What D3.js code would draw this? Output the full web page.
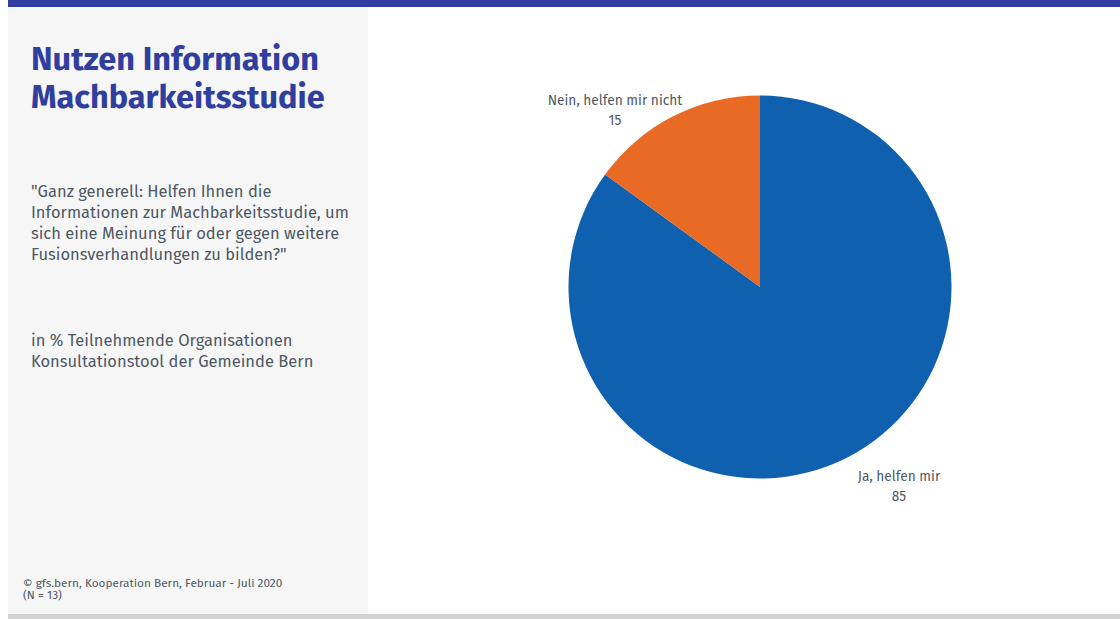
<!DOCTYPE html>
<html><head><meta charset="utf-8">
<script src="https://cdn.jsdelivr.net/npm/d3@7"></script>
<style>
html,body{margin:0;padding:0;background:#fff;}
svg{display:block;}
</style></head>
<body>
<svg id="chart" width="1120" height="619"></svg>
<script>
const categories = ["Ja, helfen mir", "Nein, helfen mir nicht"];
const values = [85, 15];
const colors = ["#0f60ae", "#e96a24"];
const titleLines = ["Nutzen Information", "Machbarkeitsstudie"];
const questionLines = ["\"Ganz generell: Helfen Ihnen die", "Informationen zur Machbarkeitsstudie, um", "sich eine Meinung für oder gegen weitere", "Fusionsverhandlungen zu bilden?\""];
const baseLines = ["in % Teilnehmende Organisationen", "Konsultationstool der Gemeinde Bern"];
const footerLines = ["©  gfs.bern, Kooperation Bern, Februar  - Juli 2020", "(N = 13)"];

const svg = d3.select("#chart");
const font = "'Fira Sans', Lato, 'Open Sans', sans-serif";
const textColor = "#4e5964";

// frame
svg.append("rect").attr("x", 8).attr("y", 0).attr("width", 1112).attr("height", 7).attr("fill", "#303f9f");
svg.append("rect").attr("x", 8).attr("y", 7).attr("width", 360).attr("height", 607).attr("fill", "#f6f6f6");
svg.append("rect").attr("x", 8).attr("y", 614).attr("width", 1112).attr("height", 5).attr("fill", "#d2d2d2");

// title
svg.append("g").selectAll("text").data(titleLines).join("text")
  .attr("x", 31).attr("y", (d, i) => 70 + i * 38)
  .attr("font-family", font).attr("font-weight", "700").attr("font-size", 32.5)
  .attr("fill", "#303f9f").text(d => d);

svg.append("g").selectAll("text").data(questionLines).join("text")
  .attr("x", 31).attr("y", (d, i) => 197 + i * 21)
  .attr("font-family", font).attr("font-size", 16.5)
  .attr("fill", textColor).text(d => d);

svg.append("g").selectAll("text").data(baseLines).join("text")
  .attr("x", 31).attr("y", (d, i) => 346 + i * 20.5)
  .attr("font-family", font).attr("font-size", 16.5)
  .attr("fill", textColor).text(d => d);

svg.append("g").selectAll("text").data(footerLines).join("text")
  .attr("x", 23).attr("y", (d, i) => 587 + i * 12)
  .attr("font-family", font).attr("font-size", 11.8)
  .attr("fill", textColor).text(d => d);

// pie
const cx = 760, cy = 287, r = 191.5;
const pie = d3.pie().sort(null).value(d => d.value);
const arcs = pie(categories.map((c, i) => ({ name: c, value: values[i], color: colors[i] })));
const arc = d3.arc().innerRadius(0).outerRadius(r);
const g = svg.append("g").attr("transform", `translate(${cx},${cy})`);
g.selectAll("path").data(arcs).join("path")
  .attr("d", arc).attr("fill", d => d.data.color);

const labelR = 236, shift = -10 * Math.PI / 180;
const lab = g.selectAll("g.lab").data(arcs).join("g").attr("class", "lab")
  .attr("transform", d => {
    const a = (d.startAngle + d.endAngle) / 2 + shift;
    return `translate(${labelR * Math.sin(a) - 3},${-labelR * Math.cos(a)})`;
  });
lab.append("text").attr("text-anchor", "middle").attr("y", 6)
  .attr("font-family", font).attr("font-size", 13.7).attr("fill", textColor)
  .text(d => d.data.name);
lab.append("text").attr("text-anchor", "middle").attr("y", 26)
  .attr("font-family", font).attr("font-size", 13.7).attr("fill", textColor)
  .text(d => d.data.value);
</script>
</body></html>
